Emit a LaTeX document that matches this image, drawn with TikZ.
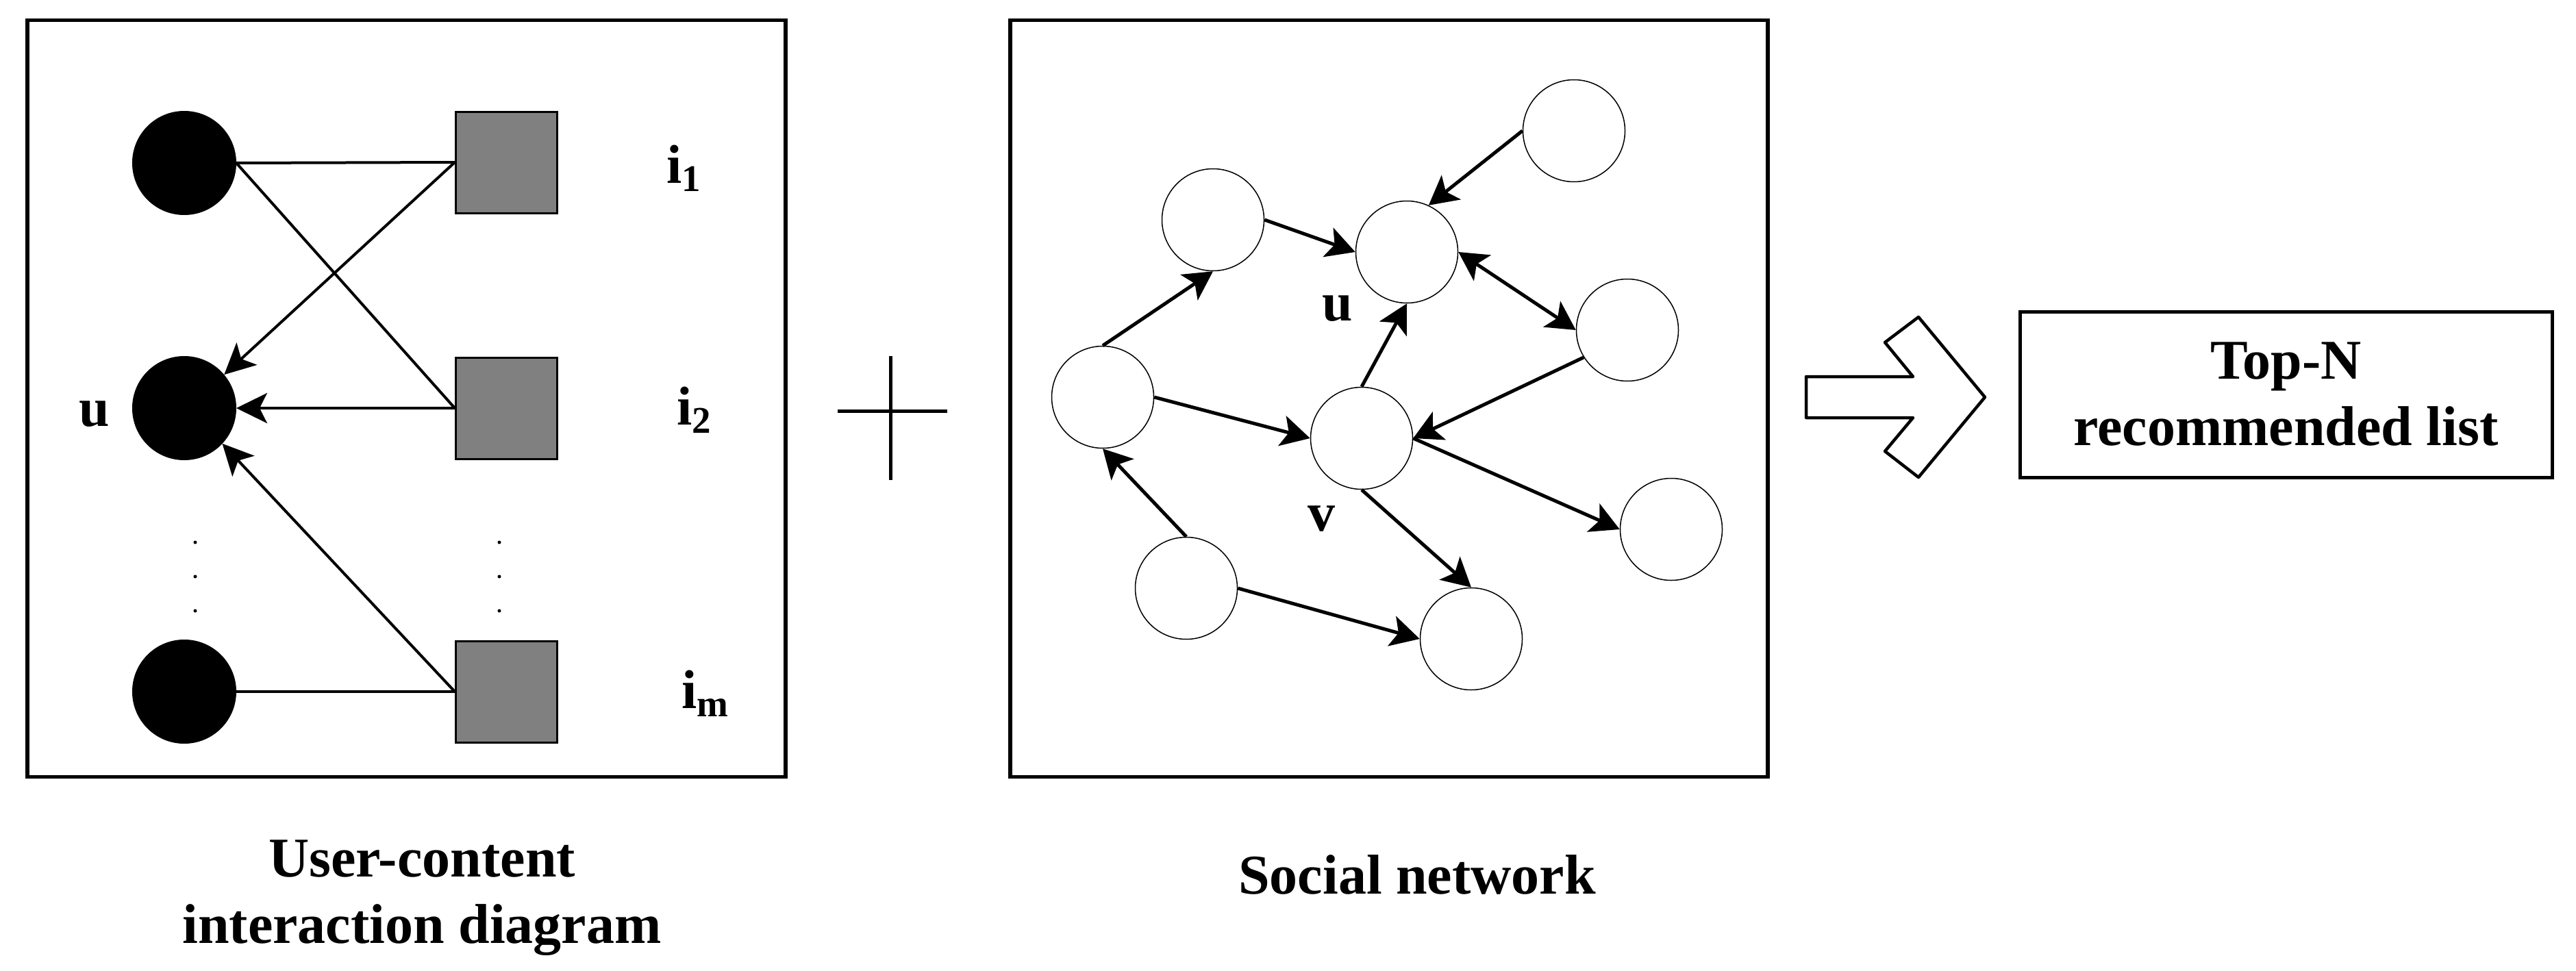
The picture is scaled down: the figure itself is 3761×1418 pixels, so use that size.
\documentclass[tikz,border=0pt]{standalone}
\usepackage{fontspec}
\setmainfont{Liberation Serif}
\usetikzlibrary{arrows.meta}
\definecolor{itemgray}{RGB}{128,128,128}
\tikzset{
  panel/.style={draw, line width=5.5pt, inner sep=0pt, outer sep=0pt},
  user/.style={circle, fill=black, draw=black, line width=1pt, minimum size=151pt, inner sep=0pt},
  item/.style={rectangle, fill=itemgray, draw=black, line width=3pt, minimum size=148pt, inner sep=0pt},
  person/.style={circle, draw=black, line width=1.5pt, minimum size=149pt, inner sep=0pt},
  bigtext/.style={font=\fontsize{82}{97}\selectfont\bfseries},
  lbltext/.style={font=\fontsize{80}{96}\selectfont\bfseries, inner sep=0pt},
  link/.style={line width=4pt},
  linkarr/.style={line width=4pt, -{Stealth[length=45pt,width=44pt,inset=11pt]}},
  socarr/.style={line width=5pt, -{Stealth[length=42pt,width=45pt,inset=10pt]}},
  socdbl/.style={line width=5pt, {Stealth[length=42pt,width=45pt,inset=10pt]}-{Stealth[length=42pt,width=45pt,inset=10pt]}},
}
\newcommand{\subtxt}[1]{\raisebox{-12pt}{\fontsize{55}{55}\selectfont\bfseries #1}}
\begin{document}
\begin{tikzpicture}[x=1pt,y=-1pt]
\useasboundingbox (0,0) rectangle (3761,1418);

% ---------- left panel ----------
\node[panel, minimum width=1107pt, minimum height=1105pt] (panelA) at (593.5,582) {};
\node[user] (c1) at (269,238) {};
\node[user] (cu) at (269,596) {};
\node[user] (c3) at (269,1010) {};
\node[item] (s1) at (739.5,237) {};
\node[item] (s2) at (739.5,596) {};
\node[item] (sm) at (739.5,1010) {};

\draw[link] (c1.east) -- (s1.west);
\draw[link] (c1.east) -- (s2.west);
\draw[link] (c3.east) -- (sm.west);
\draw[linkarr] (s1.west) -- (cu.40);
\draw[linkarr] (s2.west) -- (cu.east);
\draw[linkarr] (sm.west) -- (cu.-43);

\foreach \yy in {792,842,892} {
  \fill (285,\yy) circle[radius=2.5];
  \fill (729,\yy) circle[radius=2.5];
}

\node[lbltext, anchor=base] (lu) at (138,622) {u};
\node[lbltext, anchor=base west] (li1) at (973,267) {i\subtxt{1}};
\node[lbltext, anchor=base west] (li2) at (988,620) {i\subtxt{2}};
\node[lbltext, anchor=base west] (lim) at (995,1034) {i\subtxt{m}};

\node[bigtext, align=center] (capA) at (616,1311) {User-content\\interaction diagram};

% ---------- plus ----------
\draw[line width=5pt] (1223,600) -- (1383,600);
\draw[line width=5pt] (1300,520) -- (1300,701);

% ---------- social network ----------
\node[panel, minimum width=1106pt, minimum height=1105pt] (panelB) at (2028,582) {};
\node[person] (e1) at (2298,191) {};
\node[person] (e2) at (1771,321) {};
\node[person] (e3) at (2054,368) {};
\node[person] (e4) at (2376,482) {};
\node[person] (e5) at (1610,580) {};
\node[person] (e6) at (1988,640) {};
\node[person] (e7) at (2440,773) {};
\node[person] (e8) at (1732,859) {};
\node[person] (e9) at (2148,933) {};

\draw[socarr] (e1.west) -- (e3.65);
\draw[socarr] (e2.east) -- (e3.west);
\draw[socarr] (e5.north) -- (e2.south);
\draw[socarr] (e5.east) -- (e6.west);
\draw[socarr] (e6.north) -- (e3.south);
\draw[socdbl] (e3.east) -- (e4.west);
\draw[socarr] (e4.212) -- (e6.east);
\draw[socarr] (e6.east) -- (e7.west);
\draw[socarr] (e6.south) -- (e9.north);
\draw[socarr] (e8.north) -- (e5.south);
\draw[socarr] (e8.east) -- (e9.west);

\node[lbltext, anchor=base] (su) at (1953,468) {u};
\node[lbltext, anchor=base] (sv) at (1929,775) {v};

\node[bigtext, anchor=base] (capB) at (2069,1305) {Social network};

% ---------- block arrow ----------
\draw[line width=4.5pt, line join=round, fill=white]
  (2637,550) -- (2793,550) -- (2752,500) -- (2801,463) -- (2898,580)
  -- (2801,697) -- (2752,659) -- (2793,610) -- (2637,610) -- cycle;

% ---------- result ----------
\node[panel, line width=5pt, minimum width=777pt, minimum height=242pt, bigtext, align=center] (res) at (3337.5,576) {Top-N\\recommended list};
\end{tikzpicture}
\end{document}
